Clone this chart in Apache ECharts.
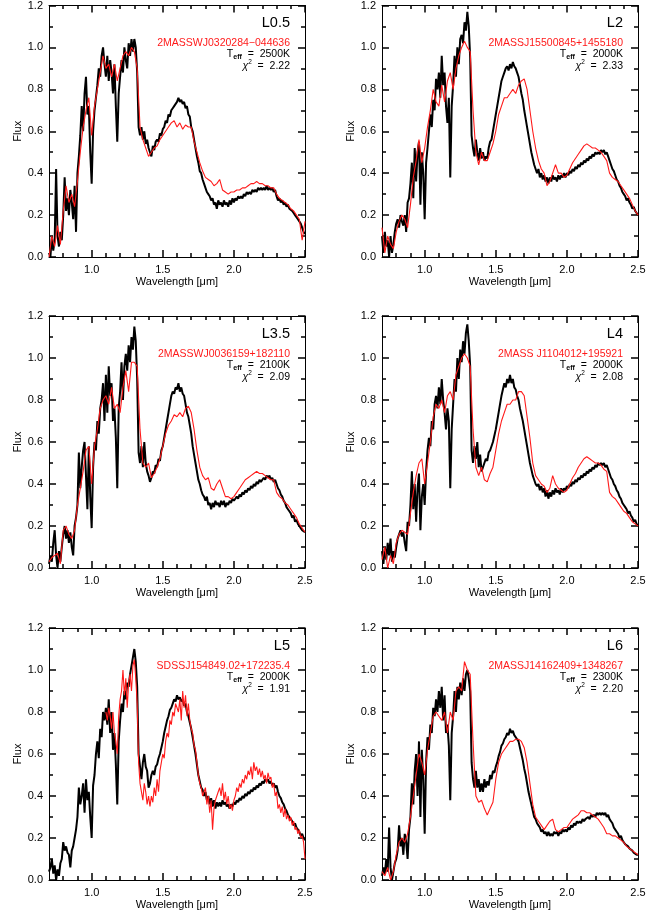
<!DOCTYPE html>
<html>
<head>
<meta charset="utf-8">
<script src="https://cdn.jsdelivr.net/npm/echarts@6/dist/echarts.min.js"></script>
<style>
  html, body { margin: 0; padding: 0; background: #fff; }
  #chart { width: 667px; height: 915px; }
</style>
</head>
<body>
<div id="chart"></div>
<script>
// Wavelength grids (micron): observed spectra at 0.01, model spectra at 0.02
const obsWave = [
  0.70,0.71,0.72,0.73,0.74,0.75,0.76,0.77,0.78,0.79,
  0.80,0.81,0.82,0.83,0.84,0.85,0.86,0.87,0.88,0.89,
  0.90,0.91,0.92,0.93,0.94,0.95,0.96,0.97,0.98,0.99,
  1.00,1.01,1.02,1.03,1.04,1.05,1.06,1.07,1.08,1.09,
  1.10,1.11,1.12,1.13,1.14,1.15,1.16,1.17,1.18,1.19,
  1.20,1.21,1.22,1.23,1.24,1.25,1.26,1.27,1.28,1.29,
  1.30,1.31,1.32,1.33,1.34,1.35,1.36,1.37,1.38,1.39,
  1.40,1.41,1.42,1.43,1.44,1.45,1.46,1.47,1.48,1.49,
  1.50,1.51,1.52,1.53,1.54,1.55,1.56,1.57,1.58,1.59,
  1.60,1.61,1.62,1.63,1.64,1.65,1.66,1.67,1.68,1.69,
  1.70,1.71,1.72,1.73,1.74,1.75,1.76,1.77,1.78,1.79,
  1.80,1.81,1.82,1.83,1.84,1.85,1.86,1.87,1.88,1.89,
  1.90,1.91,1.92,1.93,1.94,1.95,1.96,1.97,1.98,1.99,
  2.00,2.01,2.02,2.03,2.04,2.05,2.06,2.07,2.08,2.09,
  2.10,2.11,2.12,2.13,2.14,2.15,2.16,2.17,2.18,2.19,
  2.20,2.21,2.22,2.23,2.24,2.25,2.26,2.27,2.28,2.29,
  2.30,2.31,2.32,2.33,2.34,2.35,2.36,2.37,2.38,2.39,
  2.40,2.41,2.42,2.43,2.44,2.45,2.46,2.47,2.48,2.49,
  2.50
];
const modelWave = [
  0.70,0.72,0.74,0.76,0.78,0.80,0.82,0.84,0.86,0.88,
  0.90,0.92,0.94,0.96,0.98,1.00,1.02,1.04,1.06,1.08,
  1.10,1.12,1.14,1.16,1.18,1.20,1.22,1.24,1.26,1.28,
  1.30,1.32,1.34,1.36,1.38,1.40,1.42,1.44,1.46,1.48,
  1.50,1.52,1.54,1.56,1.58,1.60,1.62,1.64,1.66,1.68,
  1.70,1.72,1.74,1.76,1.78,1.80,1.82,1.84,1.86,1.88,
  1.90,1.92,1.94,1.96,1.98,2.00,2.02,2.04,2.06,2.08,
  2.10,2.12,2.14,2.16,2.18,2.20,2.22,2.24,2.26,2.28,
  2.30,2.32,2.34,2.36,2.38,2.40,2.42,2.44,2.46,2.48,
  2.50
];
// the L5 model covers 1.10-2.50 only, at full resolution
const l5ModelWave = obsWave.slice(40);

// ---- L0.5 ----
const l05Obs = [
  0.02,0.00,0.10,0.03,0.08,0.42,0.10,0.05,0.12,0.08,
  0.20,0.38,0.22,0.28,0.20,0.32,0.26,0.18,0.34,0.12,
  0.40,0.48,0.58,0.72,0.60,0.78,0.86,0.68,0.72,0.50,
  0.35,0.60,0.70,0.76,0.82,0.90,0.86,0.96,1.00,0.92,
  0.86,0.96,0.84,0.94,0.88,0.78,0.92,0.72,0.55,0.78,
  0.86,0.94,0.88,1.00,0.94,0.90,1.02,0.96,1.04,0.98,
  1.04,1.00,0.88,0.62,0.58,0.62,0.56,0.60,0.54,0.56,
  0.52,0.50,0.48,0.53,0.51,0.55,0.56,0.55,0.59,0.58,
  0.61,0.62,0.65,0.64,0.68,0.67,0.70,0.71,0.72,0.72,
  0.74,0.76,0.74,0.75,0.73,0.74,0.71,0.72,0.68,0.67,
  0.62,0.60,0.56,0.52,0.48,0.45,0.41,0.40,0.37,0.35,
  0.33,0.31,0.30,0.29,0.27,0.28,0.25,0.26,0.23,0.27,
  0.25,0.26,0.24,0.27,0.25,0.26,0.24,0.27,0.25,0.28,
  0.26,0.28,0.27,0.29,0.28,0.29,0.28,0.30,0.29,0.31,
  0.30,0.31,0.30,0.32,0.31,0.32,0.31,0.33,0.32,0.33,
  0.32,0.33,0.32,0.34,0.32,0.33,0.32,0.33,0.31,0.32,
  0.29,0.27,0.28,0.26,0.27,0.25,0.26,0.24,0.25,0.23,
  0.23,0.22,0.21,0.20,0.19,0.18,0.17,0.16,0.14,0.12,
  0.11
];
const l05Model = [
  0.00,0.10,0.05,0.15,0.06,0.22,0.34,0.26,0.30,0.24,
  0.36,0.50,0.62,0.70,0.76,0.58,0.72,0.80,0.88,0.96,
  0.90,0.92,0.86,0.92,0.84,0.90,0.96,0.98,0.96,1.00,
  0.98,0.90,0.62,0.56,0.52,0.48,0.50,0.52,0.53,0.56,
  0.58,0.60,0.62,0.64,0.65,0.62,0.64,0.61,0.63,0.62,
  0.62,0.55,0.50,0.45,0.41,0.38,0.37,0.36,0.34,0.35,
  0.37,0.32,0.31,0.30,0.31,0.31,0.32,0.32,0.33,0.33,
  0.34,0.35,0.35,0.36,0.35,0.35,0.34,0.34,0.33,0.33,
  0.30,0.28,0.27,0.26,0.25,0.23,0.22,0.20,0.18,0.08,
  0.17
];

// ---- L2 ----
const l2Obs = [
  0.10,0.02,0.12,0.05,0.08,0.00,0.10,0.02,0.06,0.12,
  0.16,0.18,0.14,0.20,0.17,0.15,0.20,0.12,0.26,0.28,
  0.35,0.45,0.28,0.52,0.36,0.50,0.55,0.25,0.50,0.40,
  0.18,0.45,0.52,0.60,0.68,0.62,0.75,0.70,0.85,0.80,
  0.88,0.76,0.96,0.82,0.88,0.72,0.64,0.76,0.38,0.72,
  0.82,0.96,0.86,1.00,0.92,1.04,1.06,1.02,1.12,1.08,
  1.17,1.10,0.95,0.58,0.52,0.48,0.56,0.50,0.46,0.52,
  0.47,0.50,0.46,0.48,0.47,0.52,0.55,0.56,0.60,0.64,
  0.68,0.72,0.76,0.80,0.84,0.86,0.88,0.90,0.91,0.89,
  0.92,0.90,0.93,0.91,0.90,0.88,0.86,0.82,0.78,0.75,
  0.70,0.66,0.62,0.58,0.54,0.50,0.47,0.44,0.42,0.40,
  0.42,0.38,0.40,0.37,0.39,0.36,0.38,0.35,0.38,0.36,
  0.39,0.37,0.38,0.36,0.39,0.37,0.39,0.38,0.40,0.38,
  0.40,0.39,0.41,0.40,0.42,0.41,0.43,0.42,0.44,0.43,
  0.45,0.44,0.46,0.45,0.47,0.46,0.48,0.47,0.49,0.48,
  0.50,0.49,0.50,0.49,0.51,0.50,0.51,0.49,0.50,0.48,
  0.46,0.44,0.42,0.41,0.39,0.37,0.36,0.34,0.33,0.31,
  0.30,0.29,0.27,0.28,0.26,0.25,0.23,0.24,0.22,0.21,
  0.20
];
const l2Model = [
  0.14,0.02,0.10,0.06,0.04,0.12,0.17,0.20,0.18,0.14,
  0.25,0.38,0.46,0.56,0.45,0.52,0.62,0.70,0.80,0.74,
  0.72,0.82,0.74,0.84,0.88,0.80,0.90,0.96,1.00,1.03,
  1.00,0.98,0.70,0.50,0.44,0.50,0.46,0.46,0.50,0.54,
  0.60,0.68,0.72,0.76,0.76,0.78,0.80,0.78,0.82,0.84,
  0.85,0.80,0.70,0.60,0.52,0.46,0.42,0.40,0.34,0.36,
  0.40,0.44,0.40,0.40,0.38,0.39,0.42,0.45,0.47,0.49,
  0.51,0.53,0.54,0.53,0.52,0.52,0.51,0.50,0.48,0.46,
  0.40,0.38,0.37,0.36,0.34,0.32,0.30,0.28,0.25,0.22,
  0.20
];

// ---- L3.5 ----
const l35Obs = [
  0.02,0.06,0.03,0.12,0.18,0.06,0.00,0.08,0.03,0.10,
  0.16,0.20,0.14,0.18,0.12,0.17,0.10,0.06,0.20,0.24,
  0.30,0.55,0.38,0.48,0.56,0.60,0.44,0.28,0.58,0.34,
  0.19,0.48,0.60,0.56,0.70,0.64,0.76,0.80,0.88,0.70,
  0.92,0.74,0.96,0.82,0.88,0.70,0.76,0.62,0.38,0.76,
  0.84,0.98,0.80,0.96,1.02,0.94,1.06,0.98,1.10,1.04,
  1.15,1.08,0.90,0.55,0.50,0.58,0.48,0.60,0.50,0.46,
  0.44,0.41,0.43,0.46,0.45,0.49,0.48,0.52,0.51,0.56,
  0.58,0.62,0.66,0.70,0.74,0.78,0.82,0.84,0.83,0.86,
  0.85,0.88,0.84,0.86,0.83,0.82,0.78,0.74,0.72,0.68,
  0.64,0.58,0.54,0.50,0.46,0.42,0.40,0.37,0.35,0.34,
  0.32,0.34,0.30,0.31,0.28,0.31,0.29,0.32,0.30,0.31,
  0.29,0.32,0.30,0.32,0.29,0.31,0.30,0.32,0.31,0.33,
  0.32,0.33,0.34,0.33,0.35,0.34,0.36,0.35,0.37,0.36,
  0.38,0.37,0.39,0.38,0.40,0.39,0.41,0.40,0.42,0.41,
  0.42,0.43,0.42,0.44,0.43,0.44,0.42,0.43,0.41,0.42,
  0.40,0.38,0.37,0.35,0.34,0.32,0.31,0.29,0.28,0.27,
  0.26,0.24,0.25,0.22,0.23,0.21,0.20,0.19,0.18,0.18,
  0.17
];
const l35Model = [
  0.03,0.05,0.06,0.07,0.02,0.18,0.20,0.16,0.14,0.18,
  0.30,0.38,0.46,0.56,0.58,0.40,0.58,0.66,0.76,0.80,
  0.82,0.78,0.86,0.76,0.78,0.74,0.86,0.94,0.84,0.98,
  0.98,0.96,0.66,0.50,0.48,0.50,0.43,0.45,0.48,0.52,
  0.58,0.64,0.68,0.70,0.73,0.72,0.74,0.72,0.76,0.77,
  0.74,0.66,0.56,0.48,0.44,0.42,0.43,0.38,0.37,0.40,
  0.42,0.38,0.34,0.34,0.33,0.34,0.36,0.38,0.40,0.42,
  0.43,0.44,0.45,0.46,0.45,0.45,0.44,0.43,0.42,0.42,
  0.36,0.34,0.33,0.31,0.30,0.28,0.26,0.24,0.21,0.19,
  0.17
];

// ---- L4 ----
const l4Obs = [
  0.08,0.02,0.10,0.04,0.12,0.06,0.14,0.03,0.08,0.05,
  0.10,0.14,0.16,0.18,0.15,0.17,0.12,0.08,0.22,0.20,
  0.30,0.46,0.28,0.40,0.22,0.38,0.45,0.18,0.34,0.40,
  0.30,0.46,0.56,0.62,0.58,0.70,0.66,0.78,0.82,0.76,
  0.86,0.78,0.90,0.80,0.74,0.66,0.76,0.70,0.38,0.66,
  0.78,0.90,0.84,1.00,0.90,1.04,0.98,1.08,1.02,1.12,
  1.16,1.08,0.96,0.56,0.50,0.58,0.52,0.60,0.48,0.54,
  0.46,0.48,0.50,0.52,0.51,0.55,0.56,0.58,0.60,0.63,
  0.66,0.70,0.74,0.78,0.82,0.85,0.88,0.86,0.90,0.88,
  0.92,0.88,0.90,0.86,0.85,0.82,0.80,0.76,0.73,0.70,
  0.66,0.62,0.58,0.54,0.50,0.47,0.44,0.42,0.40,0.39,
  0.40,0.37,0.39,0.36,0.38,0.34,0.37,0.33,0.36,0.34,
  0.37,0.35,0.38,0.36,0.37,0.35,0.38,0.36,0.38,0.37,
  0.39,0.38,0.40,0.39,0.41,0.40,0.42,0.41,0.43,0.42,
  0.44,0.43,0.45,0.44,0.46,0.45,0.47,0.46,0.48,0.47,
  0.49,0.48,0.50,0.49,0.50,0.49,0.50,0.48,0.49,0.47,
  0.45,0.43,0.42,0.40,0.39,0.37,0.36,0.34,0.33,0.31,
  0.30,0.29,0.28,0.26,0.27,0.25,0.24,0.22,0.23,0.21,
  0.20
];
const l4Model = [
  0.04,0.10,0.00,0.06,0.02,0.12,0.16,0.18,0.17,0.16,
  0.26,0.36,0.44,0.50,0.52,0.40,0.50,0.60,0.72,0.78,
  0.76,0.80,0.74,0.82,0.84,0.80,0.92,0.96,1.00,1.02,
  1.00,0.96,0.66,0.48,0.44,0.48,0.42,0.41,0.45,0.48,
  0.56,0.64,0.70,0.74,0.78,0.78,0.80,0.80,0.84,0.84,
  0.82,0.72,0.62,0.50,0.44,0.42,0.40,0.39,0.36,0.38,
  0.44,0.40,0.38,0.37,0.36,0.37,0.40,0.43,0.45,0.48,
  0.50,0.52,0.53,0.52,0.51,0.50,0.50,0.49,0.47,0.46,
  0.36,0.34,0.33,0.31,0.29,0.27,0.26,0.24,0.22,0.21,
  0.20
];

// ---- L5 ----
const l5Obs = [
  0.04,0.06,0.10,0.03,0.07,0.00,0.05,0.02,0.08,0.10,
  0.18,0.14,0.16,0.13,0.12,0.06,0.14,0.16,0.20,0.24,
  0.30,0.44,0.36,0.40,0.46,0.32,0.48,0.38,0.42,0.30,
  0.20,0.45,0.50,0.60,0.66,0.58,0.72,0.68,0.80,0.76,
  0.82,0.74,0.86,0.70,0.80,0.62,0.70,0.55,0.36,0.66,
  0.76,0.84,0.80,0.90,0.86,0.94,0.92,0.98,1.02,1.06,
  1.10,1.04,0.92,0.60,0.54,0.48,0.56,0.60,0.54,0.52,
  0.44,0.46,0.50,0.52,0.50,0.54,0.55,0.58,0.60,0.63,
  0.66,0.70,0.73,0.76,0.78,0.81,0.82,0.84,0.86,0.85,
  0.88,0.86,0.87,0.85,0.86,0.83,0.84,0.80,0.78,0.75,
  0.72,0.68,0.64,0.60,0.55,0.50,0.47,0.44,0.43,0.40,
  0.42,0.38,0.40,0.36,0.39,0.35,0.38,0.34,0.37,0.35,
  0.37,0.35,0.38,0.36,0.37,0.35,0.36,0.34,0.36,0.35,
  0.37,0.36,0.38,0.37,0.39,0.38,0.40,0.39,0.41,0.40,
  0.42,0.41,0.43,0.42,0.44,0.43,0.45,0.44,0.46,0.45,
  0.47,0.46,0.48,0.47,0.48,0.46,0.47,0.45,0.46,0.44,
  0.45,0.42,0.40,0.39,0.37,0.36,0.34,0.33,0.31,0.30,
  0.29,0.28,0.26,0.27,0.25,0.24,0.23,0.21,0.22,0.20,
  0.19
];
const l5Model = [
  0.80,0.76,0.82,0.78,0.72,0.80,0.70,0.66,0.60,0.78,
  0.86,0.90,1.00,0.88,0.96,0.82,0.94,0.98,0.90,1.02,
  1.05,0.96,0.84,0.56,0.46,0.42,0.38,0.46,0.42,0.36,
  0.40,0.35,0.40,0.37,0.44,0.40,0.48,0.42,0.52,0.56,
  0.60,0.58,0.66,0.70,0.68,0.76,0.74,0.80,0.78,0.84,
  0.82,0.80,0.86,0.76,0.90,0.82,0.88,0.78,0.84,0.76,
  0.72,0.70,0.64,0.62,0.56,0.50,0.46,0.44,0.40,0.42,
  0.44,0.36,0.40,0.32,0.38,0.24,0.34,0.38,0.40,0.42,
  0.44,0.40,0.46,0.38,0.42,0.36,0.40,0.34,0.36,0.33,
  0.38,0.40,0.44,0.42,0.46,0.44,0.48,0.46,0.50,0.48,
  0.52,0.50,0.54,0.48,0.56,0.52,0.54,0.50,0.53,0.49,
  0.52,0.48,0.50,0.46,0.51,0.48,0.49,0.44,0.46,0.40,
  0.42,0.34,0.36,0.32,0.35,0.30,0.34,0.29,0.31,0.28,
  0.30,0.26,0.28,0.24,0.25,0.22,0.24,0.20,0.21,0.18,
  0.10
];

// ---- L6 ----
const l6Obs = [
  0.02,0.06,0.03,0.10,0.04,0.25,0.06,0.00,0.04,0.08,
  0.10,0.14,0.26,0.16,0.20,0.12,0.22,0.18,0.10,0.24,
  0.30,0.46,0.36,0.52,0.60,0.40,0.66,0.30,0.62,0.48,
  0.22,0.56,0.68,0.62,0.74,0.70,0.82,0.78,0.86,0.80,
  0.90,0.82,0.92,0.76,0.88,0.70,0.74,0.64,0.38,0.70,
  0.78,0.90,0.80,0.92,0.86,0.94,0.88,0.96,0.90,0.98,
  1.00,0.96,0.90,0.56,0.48,0.44,0.52,0.44,0.48,0.42,
  0.46,0.42,0.48,0.44,0.47,0.45,0.50,0.48,0.52,0.51,
  0.54,0.56,0.59,0.61,0.64,0.65,0.67,0.68,0.70,0.69,
  0.72,0.70,0.71,0.69,0.69,0.67,0.66,0.63,0.60,0.57,
  0.53,0.50,0.46,0.42,0.39,0.36,0.33,0.30,0.29,0.27,
  0.26,0.25,0.23,0.24,0.22,0.23,0.21,0.23,0.21,0.22,
  0.21,0.23,0.22,0.23,0.21,0.23,0.22,0.24,0.23,0.24,
  0.23,0.25,0.24,0.26,0.25,0.27,0.26,0.28,0.27,0.28,
  0.27,0.29,0.28,0.29,0.29,0.30,0.29,0.31,0.30,0.31,
  0.30,0.32,0.31,0.32,0.31,0.32,0.31,0.32,0.30,0.31,
  0.29,0.28,0.27,0.25,0.24,0.23,0.22,0.20,0.21,0.19,
  0.18,0.17,0.17,0.16,0.15,0.15,0.14,0.13,0.13,0.12,
  0.12
];
const l6Model = [
  0.04,0.02,0.06,0.00,0.04,0.12,0.18,0.20,0.18,0.22,
  0.30,0.40,0.50,0.60,0.56,0.50,0.62,0.70,0.78,0.80,
  0.78,0.76,0.80,0.70,0.80,0.76,0.90,0.92,0.90,1.04,
  1.00,0.98,0.66,0.40,0.37,0.38,0.34,0.31,0.34,0.37,
  0.48,0.56,0.60,0.62,0.64,0.66,0.66,0.67,0.67,0.66,
  0.63,0.56,0.46,0.36,0.30,0.28,0.26,0.24,0.26,0.28,
  0.29,0.24,0.23,0.24,0.25,0.25,0.27,0.29,0.30,0.31,
  0.33,0.33,0.32,0.32,0.31,0.30,0.29,0.27,0.25,0.22,
  0.22,0.21,0.21,0.20,0.19,0.18,0.16,0.15,0.14,0.13,
  0.12
];

// Panel annotations
const spectralTypes = ['L0.5', 'L2', 'L3.5', 'L4', 'L5', 'L6'];
const objectNames = [
  '2MASSWJ0320284\u2212044636',
  '2MASSJ15500845+1455180',
  '2MASSWJ0036159+182110',
  '2MASS J1104012+195921',
  'SDSSJ154849.02+172235.4',
  '2MASSJ14162409+1348267'
];
const teffValues = ['2500K', '2000K', '2100K', '2000K', '2000K', '2300K'];
const chi2Values = ['2.22', '2.33', '2.09', '2.08', '1.91', '2.20'];

// Axis ticks
const xMajorTicks = [1.0, 1.5, 2.0, 2.5];
const xMinorTicks = [0.8, 0.9, 1.1, 1.2, 1.3, 1.4, 1.6, 1.7, 1.8, 1.9, 2.1, 2.2, 2.3, 2.4];

const panels = [
  { obs: l05Obs, model: l05Model, mWave: modelWave },
  { obs: l2Obs,  model: l2Model,  mWave: modelWave },
  { obs: l35Obs, model: l35Model, mWave: modelWave },
  { obs: l4Obs,  model: l4Model,  mWave: modelWave },
  { obs: l5Obs,  model: l5Model,  mWave: l5ModelWave },
  { obs: l6Obs,  model: l6Model,  mWave: modelWave }
];

function zip(wave, flux) {
  const out = [];
  for (let i = 0; i < flux.length && i < wave.length; i++) {
    if (flux[i] != null) out.push([wave[i], flux[i]]);
  }
  return out;
}

// Layout
const FONT = '"Liberation Sans", Arial, Helvetica, sans-serif';
const colLeft = [49, 382];
const rowTop = [5, 316, 628];
const PW = 256, PH = 252;
const RED = '#ff1a1a';
const frame = () => ({ color: '#000000', width: 1 });
// tick strokes need a little extra width to stay crisp
const tick = () => ({ color: '#000000', width: 1.5 });

const grids = [], xAxes = [], yAxes = [], series = [], graphics = [];

panels.forEach((p, i) => {
  const left = colLeft[i % 2];
  const top = rowTop[Math.floor(i / 2)];
  const gA = grids.length;
  grids.push({ left: left, top: top, width: PW, height: PH });
  grids.push({ left: left, top: top, width: PW, height: PH });
  const gB = gA + 1;

  const xi = xAxes.length;
  // major ticks + labels along the bottom, major ticks along the top
  xAxes.push({
    type: 'value', min: 0.7, max: 2.5, gridIndex: gA, position: 'bottom',
    splitLine: { show: false },
    axisLine: { show: true, onZero: false, lineStyle: frame() },
    axisTick: { show: true, inside: true, length: 7, customValues: xMajorTicks, lineStyle: tick() },
    axisLabel: { show: true, customValues: xMajorTicks, formatter: v => v.toFixed(1),
                 color: '#000', fontSize: 11, fontFamily: FONT, margin: 7 },
    name: 'Wavelength [\u03bcm]', nameLocation: 'middle', nameGap: 19,
    nameTextStyle: { color: '#000', fontSize: 11, fontFamily: FONT }
  });
  xAxes.push({
    type: 'value', min: 0.7, max: 2.5, gridIndex: gA, position: 'top',
    splitLine: { show: false },
    axisLine: { show: true, onZero: false, lineStyle: frame() },
    axisTick: { show: true, inside: true, length: 7, customValues: xMajorTicks, lineStyle: tick() },
    axisLabel: { show: false }
  });
  // minor ticks on an overlaid grid
  xAxes.push({
    type: 'value', min: 0.7, max: 2.5, gridIndex: gB, position: 'bottom',
    splitLine: { show: false },
    axisLine: { show: false, onZero: false },
    axisTick: { show: true, inside: true, length: 4, customValues: xMinorTicks, lineStyle: tick() },
    axisLabel: { show: false }
  });
  xAxes.push({
    type: 'value', min: 0.7, max: 2.5, gridIndex: gB, position: 'top',
    splitLine: { show: false },
    axisLine: { show: false, onZero: false },
    axisTick: { show: true, inside: true, length: 4, customValues: xMinorTicks, lineStyle: tick() },
    axisLabel: { show: false }
  });

  const yi = yAxes.length;
  yAxes.push({
    type: 'value', min: 0, max: 1.2, interval: 0.2, gridIndex: gA, position: 'left',
    splitLine: { show: false },
    axisLine: { show: true, onZero: false, lineStyle: frame() },
    axisTick: { show: true, inside: true, length: 7, lineStyle: tick() },
    minorTick: { show: true, splitNumber: 2, length: 4, lineStyle: tick() },
    axisLabel: { show: true, formatter: v => v.toFixed(1), color: '#000',
                 fontSize: 11, fontFamily: FONT, margin: 6 },
    name: 'Flux', nameLocation: 'middle', nameGap: 25,
    nameTextStyle: { color: '#000', fontSize: 11, fontFamily: FONT }
  });
  yAxes.push({
    type: 'value', min: 0, max: 1.2, interval: 0.2, gridIndex: gA, position: 'right',
    splitLine: { show: false },
    axisLine: { show: true, onZero: false, lineStyle: frame() },
    axisTick: { show: true, inside: true, length: 7, lineStyle: tick() },
    minorTick: { show: true, splitNumber: 2, length: 4, lineStyle: tick() },
    axisLabel: { show: false }
  });
  yAxes.push({ type: 'value', min: 0, max: 1.2, gridIndex: gB, show: false });

  series.push({
    type: 'line', xAxisIndex: xi, yAxisIndex: yi, data: zip(obsWave, p.obs),
    showSymbol: false, symbol: 'none', z: 2, silent: true,
    lineStyle: { color: '#000', width: 2 }
  });
  series.push({
    type: 'line', xAxisIndex: xi, yAxisIndex: yi, data: zip(p.mWave, p.model),
    showSymbol: false, symbol: 'none', z: 3, silent: true,
    lineStyle: { color: RED, width: 1.1 }
  });

  const rx = left + PW - 15;
  graphics.push({ type: 'text', x: rx, y: top + 18,
    style: { text: spectralTypes[i], align: 'right', verticalAlign: 'middle',
             fontSize: 14.5, fontFamily: FONT, fill: '#000' } });
  graphics.push({ type: 'text', x: rx, y: top + 38,
    style: { text: objectNames[i], align: 'right', verticalAlign: 'middle',
             fontSize: 10.5, fontFamily: FONT, fill: RED } });
  graphics.push({ type: 'text', x: rx, y: top + 49,
    style: { text: '{n|T}{s|eff}{n|  =  ' + teffValues[i] + '}', align: 'right', verticalAlign: 'middle',
             fontFamily: FONT, fill: '#000',
             rich: {
               n: { fontSize: 10.5, fontFamily: FONT, fill: '#000', lineHeight: 14, verticalAlign: 'middle' },
               s: { fontSize: 7, fontFamily: FONT, fill: '#000', fontWeight: 'bold', lineHeight: 14, verticalAlign: 'bottom' }
             } } });
  graphics.push({ type: 'text', x: rx, y: top + 61,
    style: { text: '{c|\u03c7}{p|2}{n|  =  ' + chi2Values[i] + '}', align: 'right', verticalAlign: 'middle',
             fontFamily: FONT, fill: '#000',
             rich: {
               c: { fontSize: 10.5, fontFamily: FONT, fill: '#000', lineHeight: 14, verticalAlign: 'middle', fontStyle: 'italic' },
               n: { fontSize: 10.5, fontFamily: FONT, fill: '#000', lineHeight: 14, verticalAlign: 'middle' },
               p: { fontSize: 6.5, fontFamily: FONT, fill: '#000', lineHeight: 14, verticalAlign: 'top' }
             } } });
});

const chart = echarts.init(document.getElementById('chart'), null, { renderer: 'canvas' });
chart.setOption({
  animation: false,
  backgroundColor: '#fff',
  grid: grids,
  xAxis: xAxes,
  yAxis: yAxes,
  series: series,
  graphic: graphics
});
</script>
</body>
</html>
